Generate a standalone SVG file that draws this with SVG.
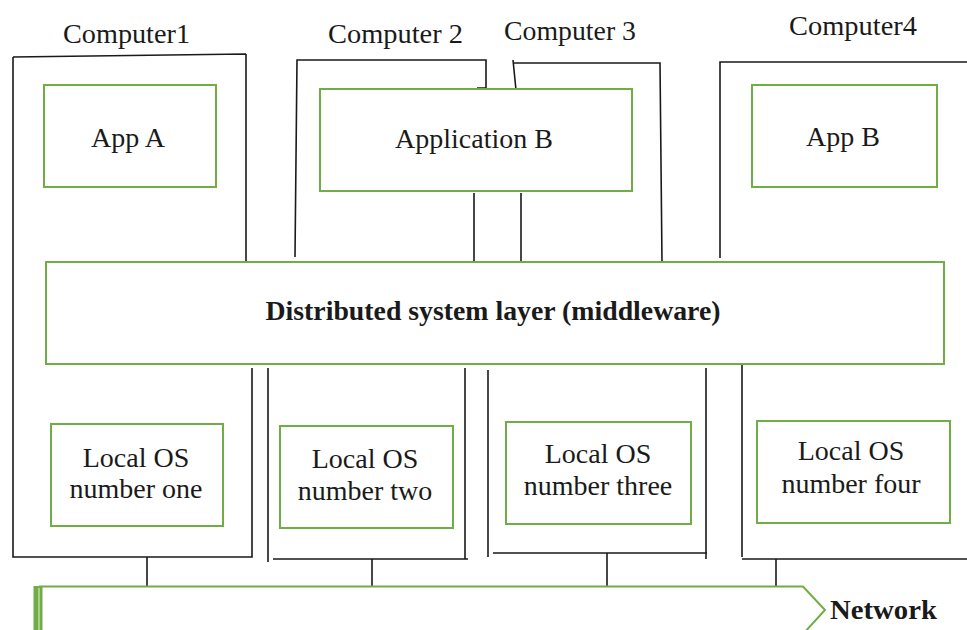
<svg xmlns="http://www.w3.org/2000/svg" width="967" height="630" viewBox="0 0 967 630">
<style>
.box{fill:#fff;stroke:#70ad47;stroke-width:2}
.ln{fill:none;stroke:#1a1a1a;stroke-width:1.6}
.t{font-family:"Liberation Serif","Times New Roman",serif;font-size:28px;fill:#1a1a1a;text-anchor:middle}
.lbl{font-family:"Liberation Serif","Times New Roman",serif;font-size:28px;fill:#1a1a1a}
.b{font-weight:bold}
</style>
<rect width="967" height="630" fill="#fff"/>
<g id="computer1">
<text class="lbl" x="63" y="43" textLength="127" lengthAdjust="spacingAndGlyphs">Computer1</text>
<path class="ln" d="M13,57 L246,54 M246,54 L246,262 M13,57 L13,557 L252,557 L252,368"/>
</g>
<g id="computer2">
<text class="lbl" x="328" y="43" textLength="135" lengthAdjust="spacingAndGlyphs">Computer 2</text>
<path class="ln" d="M295,257 L297,60 L486,60 L486,88 L477,88 M268,368 L268,562 M273,559 L468,559 M465,368 L465,559"/>
</g>
<g id="computer3">
<text class="lbl" x="504" y="40" textLength="132" lengthAdjust="spacingAndGlyphs">Computer 3</text>
<path class="ln" d="M516,90 L513,60 M513,63 L660,63 L662,262 M488,370 L488,557 M493,553 L707,553 M706,368 L706,559"/>
</g>
<g id="computer4">
<text class="lbl" x="789" y="35" textLength="128" lengthAdjust="spacingAndGlyphs">Computer4</text>
<path class="ln" d="M720,258 L720,62 L967,62 M742,365 L742,557 M742,559 L967,559"/>
</g>
<g id="appA">
<rect class="box" x="44" y="85" width="172" height="102"/>
<text class="t" x="128" y="147">App A</text>
</g>
<g id="applicationB">
<rect class="box" x="320" y="89" width="312" height="102"/>
<text class="t" x="474" y="148">Application B</text>
</g>
<g id="appB">
<rect class="box" x="752" y="85" width="185" height="102"/>
<text class="t" x="843" y="146">App B</text>
</g>
<g id="connectors">
<path class="ln" d="M474,193 L474,267 M521,193 L521,263 M147,557 L147,586 M372,559 L372,586 M607,553 L607,586 M776,559 L776,586"/>
</g>
<g id="middleware">
<rect class="box" x="46" y="262" width="898" height="102"/>
<text class="t b" x="493" y="320" font-size="27" textLength="455" lengthAdjust="spacingAndGlyphs">Distributed system layer (middleware)</text>
</g>
<g id="os1">
<rect class="box" x="51" y="424" width="172" height="102"/>
<text class="t" x="136" y="467">Local OS</text>
<text class="t" x="136" y="498">number one</text>
</g>
<g id="os2">
<rect class="box" x="280" y="426" width="173" height="102"/>
<text class="t" x="365" y="468">Local OS</text>
<text class="t" x="365" y="500">number two</text>
</g>
<g id="os3">
<rect class="box" x="506" y="422" width="185" height="102"/>
<text class="t" x="598" y="463">Local OS</text>
<text class="t" x="598" y="495">number three</text>
</g>
<g id="os4">
<rect class="box" x="757" y="421" width="193" height="102"/>
<text class="t" x="851" y="460">Local OS</text>
<text class="t" x="851" y="493">number four</text>
</g>
<g id="network">
<path d="M39,586.5 L803,586.5 L825,610 L803,634" fill="none" stroke="#70ad47" stroke-width="2"/>
<line x1="38" y1="586" x2="38" y2="630" stroke="#70ad47" stroke-width="9"/>
<line x1="39" y1="588" x2="39" y2="630" stroke="#a9d18e" stroke-width="2"/>
<text class="lbl b" x="830" y="619" textLength="107" lengthAdjust="spacingAndGlyphs">Network</text>
</g>
</svg>
